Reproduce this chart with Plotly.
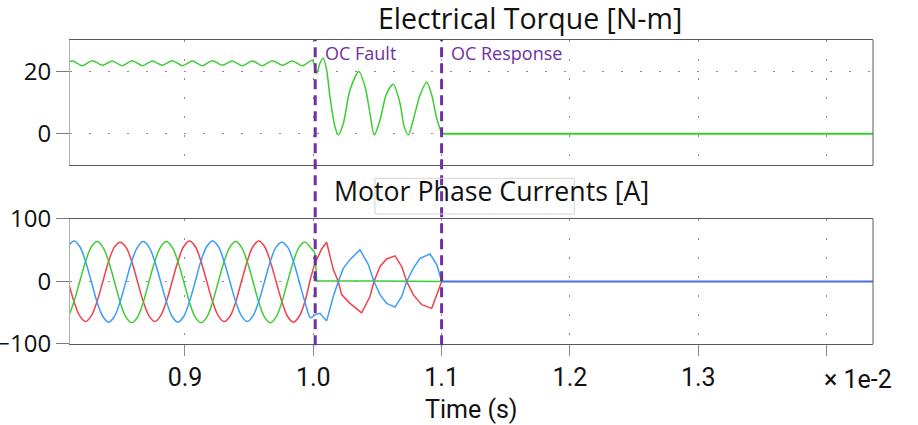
import plotly.graph_objects as go

# ---------------- data (time in units of 1e-2 s) ----------------
TORQUE_T = [0.8044, 0.8122, 0.8200, 0.8278, 0.8356, 0.8434, 0.8512, 0.8590, 0.8668,
            0.8746, 0.8824, 0.8902, 0.8980, 0.9058, 0.9136, 0.9213, 0.9291, 0.9369,
            0.9447, 0.9525, 0.9603, 0.9681, 0.9759, 0.9837, 0.9915, 0.9993,
            1.0027, 1.0052, 1.0078, 1.0104, 1.0130, 1.0169, 1.0195, 1.0234, 1.0286,
            1.0356, 1.0403, 1.0442, 1.0475, 1.0520, 1.0572, 1.0624, 1.0676, 1.0709,
            1.0740, 1.0779, 1.0832, 1.0884, 1.0923, 1.0962, 1.1001]
TORQUE_V = [21.8, 23.3, 21.8, 23.4, 21.9, 23.3, 21.8, 23.4, 21.8,
            23.3, 21.9, 23.4, 21.8, 23.3, 21.8, 23.4, 21.9, 23.3,
            21.8, 23.3, 21.8, 23.4, 21.9, 23.3, 21.8, 23.5,
            19.4, 22.6, 24.2, 20.4, 11.9, 2.2, -0.4, 3.3, 14.0,
            19.9, 15.1, 6.5, -0.4, 4.4, 12.9, 15.8, 9.7, 2.2,
            -0.4, 4.4, 12.4, 16.5, 12.4, 4.9, 0.0]
TORQUE_OFF_T = [1.1001, 1.4400]
TORQUE_OFF_V = [0.0, 0.0]

CUR_T_PRE = [0.8045, 0.8090, 0.8135, 0.8180, 0.8225, 0.8270, 0.8315, 0.8360, 0.8405,
             0.8450, 0.8495, 0.8540, 0.8585, 0.8630, 0.8675, 0.8720, 0.8765, 0.8810,
             0.8855, 0.8900, 0.8945, 0.8990, 0.9035, 0.9080, 0.9125, 0.9170, 0.9215,
             0.9260, 0.9305, 0.9350, 0.9395, 0.9440, 0.9485, 0.9530, 0.9575, 0.9620,
             0.9665, 0.9710, 0.9755, 0.9800, 0.9845, 0.9890, 0.9935, 0.9980, 1.0013]
IA_PRE = [32, 0, -32, -55, -64, -55, -32, 0, 32, 55, 63, 55,
          32, 0, -32, -55, -64, -55, -32, 0, 32, 56, 65, 56,
          32, 0, -32, -55, -64, -56, -33, 0, 32, 56, 65, 56,
          32, 0, -32, -56, -65, -56, -32, 6, 29]
IB_PRE = [-65, -56, -32, 0, 32, 55, 64, 55, 32, 0, -33, -57,
          -66, -57, -33, 0, 32, 55, 64, 55, 32, 0, -33, -57,
          -66, -57, -33, 0, 32, 55, 64, 55, 32, 0, -33, -57,
          -66, -57, -33, 0, 32, 55, 63, 54, 46]
IC_PRE = [32, 56, 65, 56, 32, 0, -33, -56, -65, -56, -32, 0,
          32, 55, 64, 55, 32, 0, -32, -56, -65, -56, -32, 0,
          33, 56, 65, 56, 32, 0, -32, -55, -64, -55, -32, 0,
          32, 55, 63, 55, 32, 0, -33, -58, -53]

IA_POST_T = [1.0013, 1.0065, 1.0104, 1.0156, 1.0195, 1.0221, 1.0286, 1.0377, 1.0442,
             1.0473, 1.0520, 1.0572, 1.0637, 1.0689, 1.0728, 1.0779, 1.0845, 1.0923, 1.1001]
IA_POST = [29, 52, 63, 19, 0, -21, -35, -50, -24, 0, 24, 36, 41, 24, 0, -21, -37, -43, 0]
IB_POST_T = [1.0013, 1.0027, 1.0500, 1.1001]
IB_POST = [46, 1, 1, 0]
IC_POST_T = [1.0013, 1.0052, 1.0104, 1.0156, 1.0195, 1.0234, 1.0286, 1.0364, 1.0429, 1.0473,
             1.0520, 1.0572, 1.0637, 1.0689, 1.0728, 1.0779, 1.0832, 1.0910, 1.0962, 1.1001]
IC_POST = [-53, -51, -63, -24, 0, 21, 35, 51, 27, 0, -21, -35, -41, -24, 0, 21, 37, 44, 27, 0]
I_OFF_T = [1.1001, 1.4400]
I_OFF = [0, 0]

T_FAULT = 1.0015
T_RESPONSE = 1.1
X_TICKS = [0.9, 1.0, 1.1, 1.2, 1.3, 1.4]
X_TICKTEXT = ["0.9", "1.0", "1.1", "1.2", "1.3", ""]

# ---------------- styles ----------------
GREEN = "#3ccd32"
RED = "#f0404c"
BLUE = "#3a9cf8"
PURPLE = "#7030a0"
MAIN_FONT = "Open Sans, Noto Sans, sans-serif"
NARROW_FONT = "Liberation Sans Narrow, Roboto, sans-serif"

fig = go.Figure()
fig.add_trace(go.Scatter(x=TORQUE_T, y=TORQUE_V, mode="lines", xaxis="x", yaxis="y",
                         line=dict(color=GREEN, width=1.5, shape="spline", smoothing=0.8)))
fig.add_trace(go.Scatter(x=TORQUE_OFF_T, y=TORQUE_OFF_V, mode="lines", xaxis="x", yaxis="y",
                         line=dict(color=GREEN, width=2)))

for t, v, c in [(CUR_T_PRE, IA_PRE, RED), (CUR_T_PRE, IB_PRE, GREEN), (CUR_T_PRE, IC_PRE, BLUE)]:
    fig.add_trace(go.Scatter(x=t, y=v, mode="lines", xaxis="x2", yaxis="y2",
                             line=dict(color=c, width=1.5, shape="spline", smoothing=1.0)))
for t, v, c in [(IA_POST_T, IA_POST, RED), (IB_POST_T, IB_POST, GREEN), (IC_POST_T, IC_POST, BLUE)]:
    fig.add_trace(go.Scatter(x=t, y=v, mode="lines", xaxis="x2", yaxis="y2",
                             line=dict(color=c, width=1.5)))
fig.add_trace(go.Scatter(x=I_OFF_T, y=I_OFF, mode="lines", xaxis="x2", yaxis="y2",
                         line=dict(color="#4d6fd8", width=2)))

XR = [0.8104, 1.4362]
grid = dict(showgrid=True, gridcolor="#8c8c8c", gridwidth=1, griddash="2px,17px")
common_x = dict(range=XR, tickvals=X_TICKS, zeroline=False, showline=True, automargin=False,
                linecolor="#5a5a5a", linewidth=1, mirror=True, **grid)
common_y = dict(zeroline=False, showline=True, linecolor="#b0b0b0", ticks="outside", ticklen=13,
                tickcolor="#7a7a7a", automargin=False,
                tickfont=dict(family=MAIN_FONT, size=24, color="#111"), **grid)
fig.update_layout(
    width=918, height=425, showlegend=False,
    paper_bgcolor="white", plot_bgcolor="white",
    margin=dict(l=70, r=45, t=40, b=81, autoexpand=False),
    xaxis=dict(anchor="y", domain=[0, 1], showticklabels=False, ticks="", **common_x),
    yaxis=dict(domain=[0.5888, 1], range=[-10, 30], tickvals=[0, 20], **common_y),
    xaxis2=dict(anchor="y2", domain=[0, 1], ticktext=X_TICKTEXT, ticks="outside", ticklen=11,
                tickcolor="#8a8a8a", tickfont=dict(family=NARROW_FONT, size=25, color="#111"),
                **common_x),
    yaxis2=dict(domain=[0, 0.4112], range=[-100, 100], tickvals=[-100, 0, 100], **common_y),
)

# right edges of the panels are darker
for yd in [(0.5888, 1), (0, 0.4112)]:
    fig.add_shape(type="line", xref="paper", yref="paper", x0=1, x1=1, y0=yd[0], y1=yd[1],
                  line=dict(color="#5a5a5a", width=1))

for xv in [T_FAULT, T_RESPONSE]:
    fig.add_shape(type="line", xref="x", yref="paper", x0=xv, x1=xv, y0=-0.004, y1=1,
                  line=dict(color=PURPLE, width=3, dash="10px,6px"), layer="above")

# light frame behind the lower title
fig.add_shape(type="rect", xref="paper", yref="paper", x0=0.3798, x1=0.6280, y0=0.4276, y1=0.545,
              line=dict(color="#d4d4d4", width=1), fillcolor="rgba(0,0,0,0)")

anns = [
    dict(text="Electrical Torque [N-m]", x=0.5729, y=1.0724, xref="paper", yref="paper",
         font=dict(family=MAIN_FONT, size=28.5, color="#111")),
    dict(text="Motor Phase Currents [A]", x=0.5255, y=0.5033, xref="paper", yref="paper",
         font=dict(family=MAIN_FONT, size=26.7, color="#111")),
    dict(text="OC Fault", x=T_FAULT, y=0.957, xref="x", yref="paper", xanchor="left", xshift=8,
         font=dict(family=MAIN_FONT, size=18, color=PURPLE)),
    dict(text="OC Response", x=T_RESPONSE, y=0.957, xref="x", yref="paper", xanchor="left", xshift=7,
         font=dict(family=MAIN_FONT, size=18, color=PURPLE)),
    dict(text="× 1e-2", x=0.9815, y=-0.118, xref="paper", yref="paper",
         font=dict(family=NARROW_FONT, size=25, color="#111")),
    dict(text="Time (s)", x=0.5, y=-0.214, xref="paper", yref="paper",
         font=dict(family=NARROW_FONT, size=25, color="#111")),
]
for a in anns:
    a.setdefault("xanchor", "center")
    fig.add_annotation(showarrow=False, yanchor="middle", **a)

fig.write_html("out.html")
